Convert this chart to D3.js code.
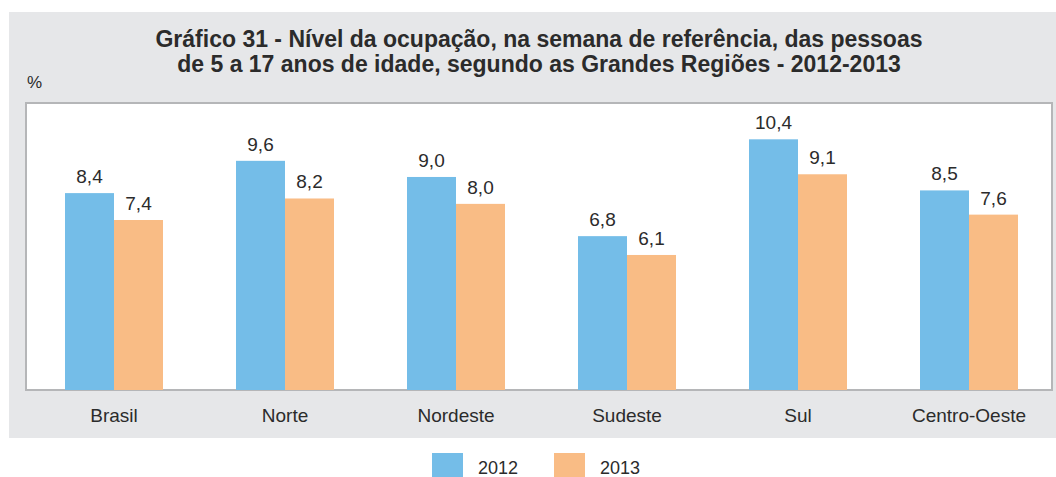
<!DOCTYPE html>
<html><head><meta charset="utf-8">
<script src="https://cdn.jsdelivr.net/npm/d3@7"></script>
<style>body{margin:0;background:#fff}svg{display:block}</style>
</head><body>
<svg id="c" width="1056" height="477"></svg>
<script>
const categories = ["Brasil","Norte","Nordeste","Sudeste","Sul","Centro-Oeste"];
const years = ["2012","2013"];
const values2012 = [8.4, 9.6, 9.0, 6.8, 10.4, 8.5];
const values2013 = [7.4, 8.2, 8.0, 6.1, 9.1, 7.6];
const titleLines = ["Gráfico 31 - Nível da ocupação, na semana de referência, das pessoas",
                    "de 5 a 17 anos de idade, segundo as Grandes Regiões - 2012-2013"];
const colors = ["#74bde8", "#f9bc85"];

const svg = d3.select("#c");
const font = "'Liberation Sans', Arial, sans-serif";

// gray panel
svg.append("rect").attr("x",9).attr("y",12).attr("width",1047).attr("height",426).attr("fill","#e6e7e9");

// title
svg.append("g").selectAll("text").data(titleLines).join("text")
  .attr("x",539).attr("y",(d,i)=>47+i*25)
  .attr("text-anchor","middle").attr("font-family",font).attr("font-weight","bold")
  .attr("font-size",23).attr("fill","#2b2b2b").text(d=>d);

svg.append("text").attr("x",27).attr("y",88).attr("font-family",font).attr("font-size",17)
  .attr("fill","#2b2b2b").text("%");

// plot area
const plot = {left:26, top:103, right:1052, bottom:390};
svg.append("rect").attr("x",plot.left).attr("y",plot.top)
  .attr("width",plot.right-plot.left).attr("height",plot.bottom-plot.top)
  .attr("fill","#fff").attr("stroke","#b5b6b8").attr("stroke-width",2);

const x = d3.scaleBand().domain(categories).range([28.5, 1054.5]).padding(0);
const barW = 49;
const x1 = d3.scaleBand().domain(years).range([x.bandwidth()/2 - barW, x.bandwidth()/2 + barW]);
const y = d3.scaleLinear().domain([1.08, 11.75]).range([plot.bottom, plot.top]);

const data = categories.map((c,i)=>({cat:c, vals:[values2012[i], values2013[i]]}));

const g = svg.append("g").selectAll("g").data(data).join("g")
  .attr("transform", d=>`translate(${x(d.cat)},0)`);

g.selectAll("rect").data(d=>d.vals.map((v,j)=>({v, yr:years[j], j}))).join("rect")
  .attr("x", d=>x1(d.yr)).attr("width", x1.bandwidth())
  .attr("y", d=>y(d.v)).attr("height", d=>plot.bottom - y(d.v))
  .attr("fill", d=>colors[d.j]);

g.selectAll("text.val").data(d=>d.vals.map((v,j)=>({v, yr:years[j], j}))).join("text")
  .attr("class","val")
  .attr("x", d=>x1(d.yr)+x1.bandwidth()/2).attr("y", d=>y(d.v)-10)
  .attr("text-anchor","middle").attr("font-family",font).attr("font-size",19)
  .attr("fill","#2b2b2b").text(d=>d.v.toFixed(1).replace(".",","));

// x axis labels
const xAxis = d3.axisBottom(x).tickSize(0).tickPadding(0);
const ax = svg.append("g").attr("transform",`translate(0,${plot.bottom})`).call(xAxis);
ax.select(".domain").remove();
ax.selectAll("text").attr("font-family",font).attr("font-size",19).attr("fill","#2b2b2b")
  .attr("dy",null).attr("y",32);

// legend
const leg = svg.append("g").selectAll("g").data(years).join("g")
  .attr("transform",(d,i)=>`translate(${432+i*122},453)`);
leg.append("rect").attr("width",31).attr("height",24).attr("fill",(d,i)=>colors[i]);
leg.append("text").attr("x",46).attr("y",21).attr("font-family",font).attr("font-size",18)
  .attr("fill","#2b2b2b").text(d=>d);
</script>
</body></html>
